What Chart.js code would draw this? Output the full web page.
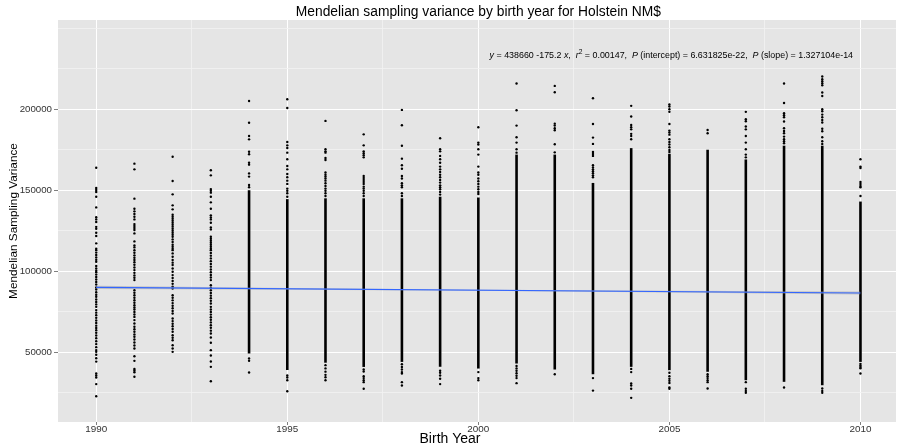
<!DOCTYPE html>
<html>
<head>
<meta charset="utf-8">
<script src="https://cdn.jsdelivr.net/npm/chart.js@4"></script>
<style>
  html, body { margin: 0; padding: 0; background: #ffffff; }
  #wrap { width: 900px; height: 448px; }
</style>
</head>
<body>
<div id="wrap"><canvas id="c" width="900" height="448"></canvas></div>
<script>
// Mendelian sampling variance (NM$) of Holstein animals, by birth year.
const titleText = 'Mendelian sampling variance by birth year for Holstein NM$';
const xTitle = 'Birth Year';
const yTitle = 'Mendelian Sampling Variance';

// Axis breaks
const xTicks = [1990, 1992.5, 1995, 1997.5, 2000, 2002.5, 2005, 2007.5, 2010];
const xLabelled = [1990, 1995, 2000, 2005, 2010];
const yTicks = [25000, 50000, 75000, 100000, 125000, 150000, 175000, 200000, 225000, 250000];
const yLabelled = [50000, 100000, 150000, 200000];

// Linear fit reported on the plot
const fitIntercept = 438660;
const fitSlope = -175.2;
const fitR2 = '0.00147';
const fitPIntercept = '6.631825e-22';
const fitPSlope = '1.327104e-14';
const fitYears = [1990, 2010];
// half-width of the confidence band around the fit
const bandYears = [1990, 1995, 2000, 2005, 2010];
const bandHalfWidth = [950, 550, 350, 550, 950];

// Birth years where animals are so numerous that they form a solid column
const coreYears = [1994, 1995, 1996, 1997, 1998, 1999, 2000, 2001, 2002, 2003, 2004, 2005, 2006, 2007, 2008, 2009, 2010];
const coreLow  = [49200, 39000, 43500, 40900, 44000, 41000, 39900, 43000, 39300, 36400, 40950, 38900, 37900, 32700, 31700, 29600, 44000];
const coreHigh = [150000, 144500, 145000, 145000, 145000, 146000, 145500, 172000, 172000, 154500, 176000, 172500, 175000, 169000, 177500, 177500, 143000];

// Individual animals outside the solid columns
const pts1990 = [163900, 151400, 150100, 148900, 146000, 139400, 133300, 132000, 130400, 127400, 126200, 123700, 121700, 117200, 113900,
  113000, 111500, 110000, 108500, 107000, 105800, 103200, 101700, 100300, 99400, 97900, 96400, 94900, 93400, 91800, 90000,
  88700, 87000, 85500, 84200, 82500, 81000, 79500, 78000, 76000, 74400, 72800, 71200, 69600, 68000, 66400, 65000, 63600,
  62000, 60300, 58600, 56800, 55000, 53100, 51300, 50200, 48400, 46300, 44200, 36800, 35600, 34400, 30300, 22800];
const pts1991 = [166400, 162900, 144800, 138600, 136950, 135300, 133650, 132000, 129100, 127900, 126650, 125400, 123350, 118400, 115900, 114700,
  113000, 111400, 109800, 108300, 106900, 105600, 104000, 102300, 100700, 99000, 97400, 96000, 94500,
  88300, 86700, 85200, 83600, 82100, 80500, 79000, 77600, 76400, 74800, 73300, 71800, 69800, 67700,
  65700, 64200, 62600, 61000, 59500, 57800, 56000, 54100, 52300, 47500, 44650, 39700, 38700, 37650, 34800];
const pts1992 = [170700, 155700, 147450, 140650, 138200, 134900, 133650, 132400, 131200, 129950, 128700, 127500, 126250, 125000, 123760,
  122500, 121300, 119650, 118000, 116350, 115100, 113900, 113000, 111000, 108900, 106900, 105300, 103800, 101700, 99700,
  97600, 95800, 94000, 92200, 90500, 89350, 85200, 83600, 82000, 80300, 78700, 77100, 75500, 73900,
  70800, 69200, 67600, 66000, 64300, 62600, 60500, 58900, 57400, 54300, 52300, 50200];
const pts1993 = [162300, 159200, 150700, 149700, 148500, 146000, 142500, 138600, 134500, 133200, 132000, 129900, 127050, 125800,
  121300, 120050, 118800, 117600, 116350, 115100, 113900, 113000, 111300, 109600, 107900, 106200, 104500, 102800, 101100,
  99400, 97700, 96100, 94500, 91400, 89800, 88200, 86500, 84900, 83300, 81700, 80100, 78000, 76400, 74800, 73200, 71600,
  70000, 68400, 66700, 65100, 63300, 61500, 59100, 55800, 51250, 47950, 44250, 40950, 32100];
const pts1994 = [205100, 191700, 183500, 181400, 173800, 172200, 167000, 165800, 160400, 158400, 153200, 151800, 46100, 44650, 37450];
const pts1995 = [206200, 200800, 179800, 177700, 176100, 173200, 169100, 165000, 162900, 160000, 158000, 155900, 153900, 151000, 149700, 148100, 146000,
  35600, 34400, 32700, 25900];
const pts1996 = [192800, 175300, 174000, 173200, 169900, 168700, 160900, 159600, 158400, 157200, 155900, 154300, 152600, 151000, 149700, 148100, 146400,
  42000, 40000, 38000, 36000, 34500, 32700];
const pts1997 = [184500, 177700, 174000, 172800, 171600, 170300, 158800, 157600, 156300, 155100, 153900, 152200, 151000, 149700, 148100, 146400,
  39300, 38100, 35200, 34000, 32700, 31500, 27400];
const pts1998 = [199600, 190100, 177500, 169500, 165400, 163300, 158800, 157200, 154300, 153000, 151800, 148100, 146400,
  42600, 40900, 39300, 37700, 36800, 31500, 29400];
const pts1999 = [182100, 175300, 174000, 171200, 169100, 167000, 164600, 162900, 161300, 159600, 158000, 156300, 154700, 153000, 151800, 150600, 148900, 147300,
  38500, 37300, 35600, 33600, 30300];
const pts2000 = [188900, 179400, 178200, 175300, 172000, 164600, 160900, 159600, 157200, 155500, 153900, 152200, 150600, 148900, 147700,
  37700, 34000, 32700];
const pts2001 = [215900, 199400, 189900, 182700, 179400, 175300, 173200, 41500, 40000, 38500, 37000, 35500, 34000, 30900];
const pts2002 = [214400, 210500, 191100, 189900, 188300, 187000, 178400, 173400, 36400];
const pts2003 = [206800, 190900, 182500, 178600, 173600, 172400, 171200, 165400, 164100, 162900, 161700, 160500, 159200, 158000, 34000, 26300];
const pts2004 = [202100, 195500, 190300, 188900, 187600, 184800, 183500, 181500, 39700, 37700, 30700, 29400, 27400, 21800];
const pts2005 = [202900, 201700, 200000, 198400, 190900, 186800, 185600, 184300, 181500, 179800, 178200, 176500, 174900, 173600,
  37300, 35200, 33600, 32300, 31000, 28200, 27400];
const pts2006 = [187200, 185200, 36400, 35200, 34000, 32700, 31500, 27600];
const pts2007 = [198400, 193800, 192600, 189300, 187600, 183500, 179400, 175300, 172000, 170300, 31500, 27400, 26100, 24900];
const pts2008 = [215900, 203900, 197500, 196300, 195100, 192400, 188300, 186600, 185200, 183100, 181500, 180200, 179000, 28200];
const pts2009 = [220200, 218500, 217300, 216100, 214800, 210300, 208200, 200000, 198800, 196700, 195100, 193400, 191800, 188000, 186400,
  182700, 180200, 178600, 27600, 26100, 24900];
const pts2010 = [169100, 164600, 163700, 155100, 153900, 152600, 151800, 146400, 42800, 41800, 40900, 40100, 36800];

const pointSets = [
  [1990, pts1990], [1991, pts1991], [1992, pts1992], [1993, pts1993], [1994, pts1994], [1995, pts1995],
  [1996, pts1996], [1997, pts1997], [1998, pts1998], [1999, pts1999], [2000, pts2000], [2001, pts2001],
  [2002, pts2002], [2003, pts2003], [2004, pts2004], [2005, pts2005], [2006, pts2006], [2007, pts2007],
  [2008, pts2008], [2009, pts2009], [2010, pts2010]
];

// Build the library datasets
const scatterData = [];
pointSets.forEach(([yr, vals]) => vals.forEach(v => scatterData.push({ x: yr, y: v })));
const coreData = coreYears.map((yr, i) => ({ x: yr, y: [coreLow[i], coreHigh[i]] }));
const fitAt = yr => fitIntercept + fitSlope * yr;
const fitData = fitYears.map(yr => ({ x: yr, y: fitAt(yr) }));
const bandUpper = bandYears.map((yr, i) => ({ x: yr, y: fitAt(yr) + bandHalfWidth[i] }));
const bandLower = bandYears.map((yr, i) => ({ x: yr, y: fitAt(yr) - bandHalfWidth[i] }));

// Equation annotation position (data units)
const annotX = 2005.05;
const annotY = 233000;

const FONT = '"Liberation Sans", Arial, Helvetica, sans-serif';
const TICK_COLOR = '#333333';

const panelPlugin = {
  id: 'panel',
  beforeDraw(chart) {
    const { ctx, chartArea: a } = chart;
    ctx.save();
    ctx.fillStyle = '#E5E5E5';
    ctx.fillRect(a.left, a.top, a.right - a.left, a.bottom - a.top);
    ctx.restore();
  },
  afterDraw(chart) {
    const { ctx, scales, width, chartArea: a } = chart;
    ctx.save();
    ctx.fillStyle = '#000000';
    ctx.textAlign = 'center';
    ctx.textBaseline = 'middle';

    // plot title, centred over the panel
    const cx = (scales.x.getPixelForValue(1989) + scales.x.getPixelForValue(2011)) / 2;
    ctx.font = '13.8px ' + FONT;
    ctx.fillText(titleText, cx, 12);

    // axis titles
    ctx.font = '14px ' + FONT;
    ctx.fillText(xTitle, width / 2, 439);
    ctx.save();
    ctx.translate(14, (a.top + a.bottom) / 2);
    ctx.rotate(-Math.PI / 2);
    ctx.font = '11.8px ' + FONT;
    ctx.fillText(yTitle, 0, 0);
    ctx.restore();

    // regression equation
    const segs = [
      { t: 'y', it: true }, { t: ' = ' + fitIntercept + ' ' + fitSlope + ' ' }, { t: 'x', it: true }, { t: ',  ' },
      { t: 'r', it: true }, { t: '2', sup: true }, { t: ' = ' + fitR2 + ',  ' },
      { t: 'P', it: true }, { t: ' (intercept) = ' + fitPIntercept + ',  ' },
      { t: 'P', it: true }, { t: ' (slope) = ' + fitPSlope }
    ];
    const size = 8.9;
    const fontFor = s => (s.it ? 'italic ' : '') + (s.sup ? (size * 0.75) : size) + 'px ' + FONT;
    let total = 0;
    segs.forEach(s => { ctx.font = fontFor(s); s.w = ctx.measureText(s.t).width; total += s.w; });
    let x = scales.x.getPixelForValue(annotX) - total / 2;
    const y = scales.y.getPixelForValue(annotY);
    ctx.textAlign = 'left';
    segs.forEach(s => {
      ctx.font = fontFor(s);
      ctx.fillText(s.t, x, s.sup ? y - 3.5 : y);
      x += s.w;
    });
    ctx.restore();
  }
};

const isMajorX = v => xLabelled.includes(v);
const isMajorY = v => yLabelled.includes(v);

new Chart(document.getElementById('c'), {
  type: 'scatter',
  data: {
    datasets: [
      { type: 'line', label: 'fit', data: fitData, borderColor: '#3366FF', borderWidth: 1.1,
        pointRadius: 0, fill: false, order: 0 },
      { type: 'line', label: 'band upper', data: bandUpper, borderWidth: 0, borderColor: 'rgba(0,0,0,0)',
        pointRadius: 0, fill: '+1', backgroundColor: 'rgba(153,153,153,0.45)', order: 1 },
      { type: 'line', label: 'band lower', data: bandLower, borderWidth: 0, borderColor: 'rgba(0,0,0,0)',
        pointRadius: 0, fill: false, order: 2 },
      { type: 'scatter', label: 'animals', data: scatterData, pointRadius: 1.2, pointBorderWidth: 0,
        backgroundColor: '#000000', borderColor: '#000000', order: 3 },
      { type: 'bar', label: 'dense', data: coreData, backgroundColor: '#000000', borderWidth: 0,
        barThickness: 2.6, grouped: false, inflateAmount: 0, order: 4 }
    ]
  },
  options: {
    responsive: false,
    animation: false,
    events: [],
    devicePixelRatio: 1,
    layout: { padding: { top: 20, left: 0, right: 0, bottom: 0 } },
    plugins: { legend: { display: false }, tooltip: { enabled: false }, title: { display: false } },
    scales: {
      x: {
        type: 'linear', min: 1989, max: 2010.93, offset: false,
        afterBuildTicks: s => { s.ticks = xTicks.map(v => ({ value: v })); },
        afterFit: s => { s.height = 26; },
        border: { display: false },
        grid: {
          offset: false,
          color: c => (c.tick && isMajorX(c.tick.value)) ? '#FFFFFF' : '#F2F2F2',
          lineWidth: c => (c.tick && isMajorX(c.tick.value)) ? 1 : 0.8,
          tickColor: c => (c.tick && isMajorX(c.tick.value)) ? '#7F7F7F' : 'rgba(0,0,0,0)',
          tickLength: 3, drawTicks: true
        },
        ticks: {
          autoSkip: false, maxRotation: 0, padding: -2, color: TICK_COLOR,
          font: { family: FONT, size: 9.9 },
          callback: v => isMajorX(v) ? String(v) : ''
        },
        title: { display: false }
      },
      y: {
        type: 'linear', min: 6900, max: 255100,
        afterBuildTicks: s => { s.ticks = yTicks.map(v => ({ value: v })); },
        afterFit: s => { s.width = 58; },
        border: { display: false },
        grid: {
          color: c => (c.tick && isMajorY(c.tick.value)) ? '#FFFFFF' : '#F2F2F2',
          lineWidth: c => (c.tick && isMajorY(c.tick.value)) ? 1 : 0.8,
          tickColor: c => (c.tick && isMajorY(c.tick.value)) ? '#7F7F7F' : 'rgba(0,0,0,0)',
          tickLength: 4, drawTicks: true
        },
        ticks: {
          autoSkip: false, padding: 2, color: TICK_COLOR,
          font: { family: FONT, size: 9.7 },
          callback: v => isMajorY(v) ? String(v) : ''
        },
        title: { display: false }
      }
    }
  },
  plugins: [panelPlugin]
});
</script>
</body>
</html>
